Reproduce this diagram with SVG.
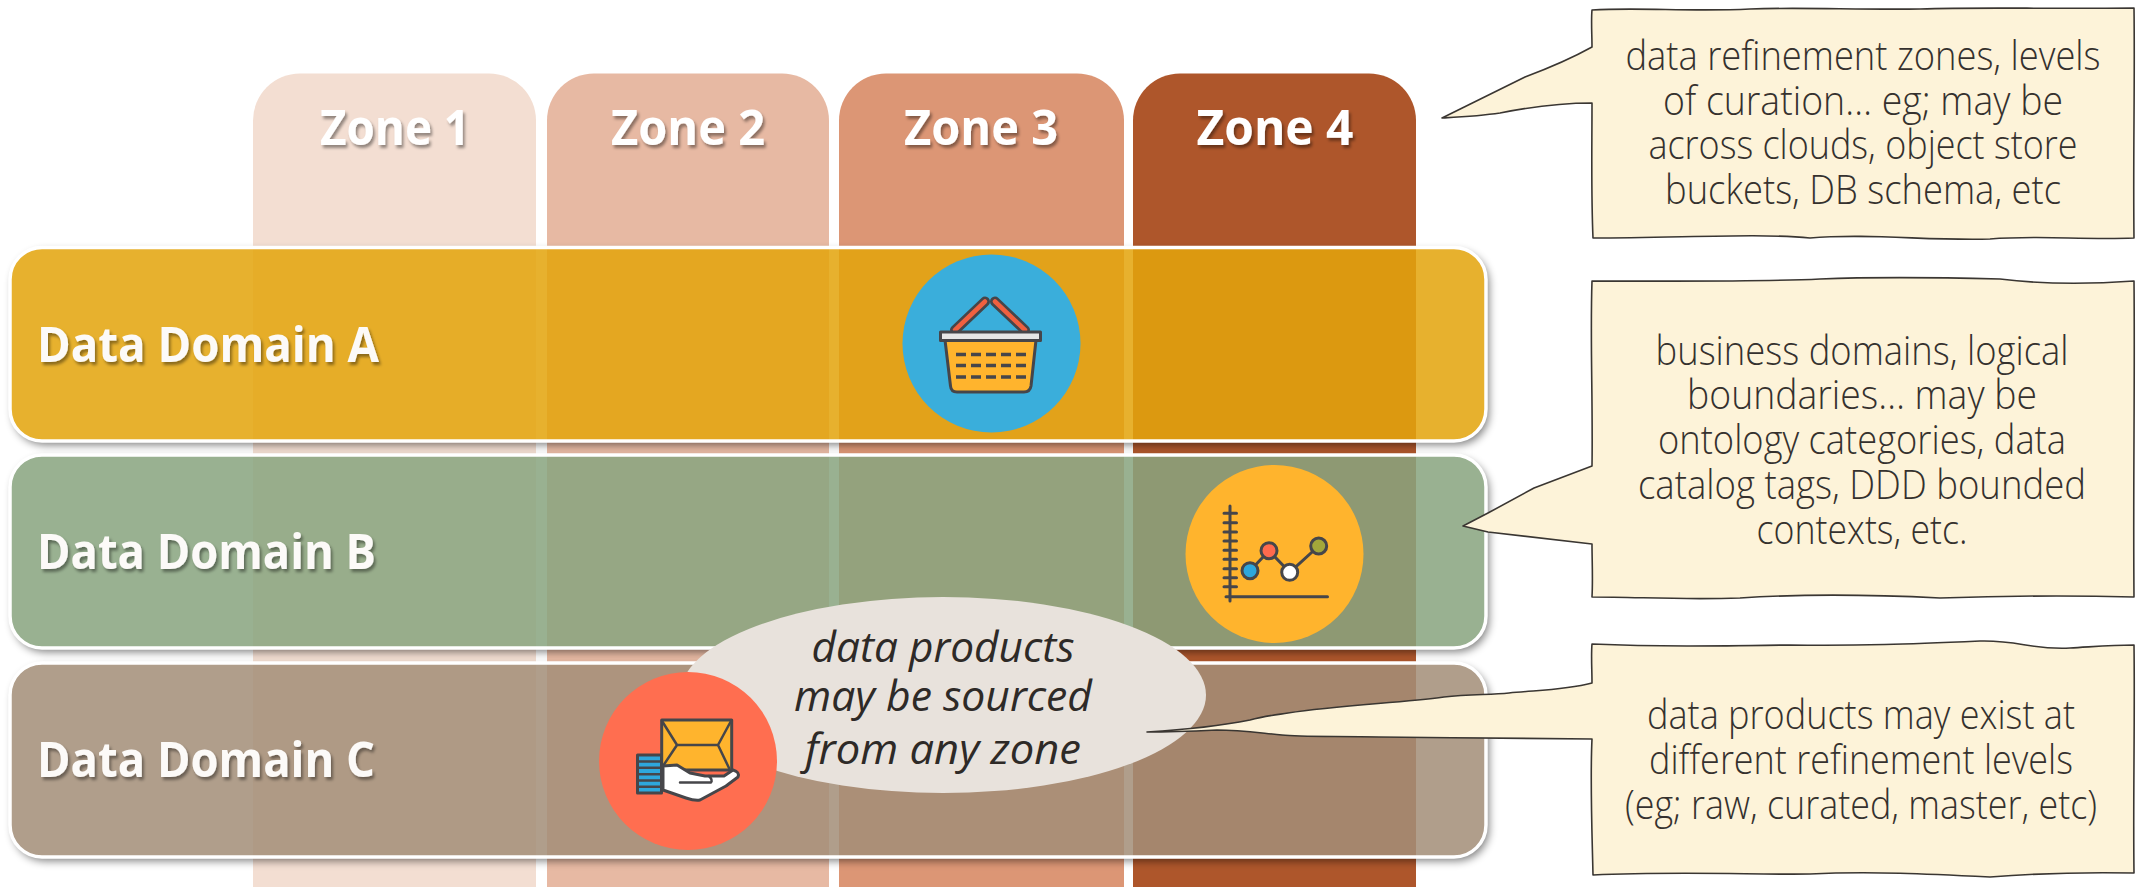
<svg xmlns="http://www.w3.org/2000/svg" width="2136" height="887" viewBox="0 0 2136 887">
<defs>
<filter id="ds" x="-5%" y="-15%" width="110%" height="130%"><feGaussianBlur in="SourceAlpha" stdDeviation="4" result="b"/><feOffset in="b" dx="3" dy="4" result="o"/><feComposite in="o" in2="SourceAlpha" operator="out" result="s"/><feComponentTransfer in="s"><feFuncA type="linear" slope=".5"/></feComponentTransfer></filter>
<filter id="ts" x="-10%" y="-20%" width="120%" height="150%"><feDropShadow dx="2" dy="3" stdDeviation="1.5" flood-color="#000" flood-opacity=".4"/></filter>
</defs>
<style>
.zone{stroke:none}
.zt{font:700 49px "Open Sans","Liberation Sans",sans-serif;fill:#fff;text-anchor:middle;filter:url(#ts)}
.dom{stroke:#fff;stroke-width:3.5}
.dt{font:700 48px "Open Sans","Liberation Sans",sans-serif;fill:#fcfaf8;filter:url(#ts)}
.note{fill:#fdf3d9;stroke:#3a3632;stroke-width:1.6;stroke-linejoin:round}
.nt{font:300 39.5px "Open Sans","Liberation Sans",sans-serif;fill:#35312e;text-anchor:middle}
.it{font:italic 400 42px "Open Sans","Liberation Sans",sans-serif;fill:#2e2a27;text-anchor:middle}
.ic{stroke:#46464a;stroke-width:3;stroke-linejoin:round;stroke-linecap:round}
.ln{fill:none}
</style>
<g id="zone-1"><rect class="zone" x="253" y="73.500" width="283" height="860" rx="47" fill="#f3ded2"/><text class="zt" x="395" y="145" textLength="150" lengthAdjust="spacingAndGlyphs">Zone 1</text></g>
<g id="zone-2"><rect class="zone" x="547" y="73.500" width="282" height="860" rx="47" fill="#e7b9a3"/><text class="zt" x="688" y="145" textLength="154" lengthAdjust="spacingAndGlyphs">Zone 2</text></g>
<g id="zone-3"><rect class="zone" x="839" y="73.500" width="285" height="860" rx="47" fill="#dc9675"/><text class="zt" x="981" y="145" textLength="154" lengthAdjust="spacingAndGlyphs">Zone 3</text></g>
<g id="zone-4"><rect class="zone" x="1133" y="73.500" width="283" height="860" rx="47" fill="#ae562b"/><text class="zt" x="1275" y="145" textLength="157" lengthAdjust="spacingAndGlyphs">Zone 4</text></g>

<g id="domain-a"><rect filter="url(#ds)" x="10" y="247.500" width="1476" height="193.500" rx="32" fill="#000"/><rect class="dom" x="10" y="247.500" width="1476" height="193.500" rx="32" fill="#e3a40c" fill-opacity=".86"/><text class="dt" x="37" y="362" textLength="342" lengthAdjust="spacingAndGlyphs">Data Domain A</text></g>
<g id="domain-b"><rect filter="url(#ds)" x="10" y="455" width="1476" height="193" rx="32" fill="#000"/><rect class="dom" x="10" y="455" width="1476" height="193" rx="32" fill="#88a47f" fill-opacity=".86"/><text class="dt" x="37" y="569" textLength="339" lengthAdjust="spacingAndGlyphs">Data Domain B</text></g>
<g id="domain-c"><rect filter="url(#ds)" x="10" y="663" width="1476" height="194" rx="32" fill="#000"/><rect class="dom" x="10" y="663" width="1476" height="194" rx="32" fill="#a38e78" fill-opacity=".86"/><text class="dt" x="37" y="777" textLength="338" lengthAdjust="spacingAndGlyphs">Data Domain C</text></g>

<g id="note-sourced">
<ellipse cx="943" cy="695" rx="263" ry="98" fill="#e8e2dc"/>
<text class="it" x="943" y="662" textLength="263" lengthAdjust="spacingAndGlyphs">data products</text>
<text class="it" x="943" y="711" textLength="298" lengthAdjust="spacingAndGlyphs">may be sourced</text>
<text class="it" x="943" y="764" textLength="276" lengthAdjust="spacingAndGlyphs">from any zone</text>
</g>

<g id="icon-basket">
<circle cx="991.500" cy="343.500" r="89" fill="#3aaedb"/>
<g class="ic">
<path d="M955 330L985 301.500" stroke-width="10"/><path d="M1025 330L995 301.500" stroke-width="10"/>
<path d="M955 330L985 301.500" stroke="#f0603f" stroke-width="4.500"/><path d="M1025 330L995 301.500" stroke="#f0603f" stroke-width="4.500"/>
<path d="M945 340L1036 340L1031 386Q1030 392 1024 392L957 392Q951 392 950.500 386Z" fill="#ffb42d"/>
<rect x="940.500" y="332" width="100" height="8.500" fill="#e6e6e6"/>
<path class="ln" stroke-width="3.500" stroke-dasharray="10 5" stroke-linecap="butt" d="M956 354.500H1026M956 365.500H1026M956 377H1026"/>
</g>
</g>

<g id="icon-chart">
<circle cx="1274.500" cy="554" r="89" fill="#ffb42d"/>
<g class="ic">
<path class="ln" d="M1230 506V601M1226 596.700H1327.500M1224 513.300H1236.500M1224 522.700H1236.500M1224 532H1236.500M1224 541H1236.500M1224 550.300H1236.500M1224 559.300H1236.500M1224 568.700H1236.500M1224 577.700H1236.500M1224 586.700H1236.500"/>
<path class="ln" d="M1250 570.700L1269 550.700L1289.700 572.300L1318.700 546"/>
<circle cx="1250" cy="570.700" r="8" fill="#2ea7dc"/>
<circle cx="1269" cy="550.700" r="8" fill="#ff6a4d"/>
<circle cx="1289.700" cy="572.300" r="8" fill="#fff"/>
<circle cx="1318.700" cy="546" r="8" fill="#a3a73a"/>
</g>
</g>

<g id="icon-hand">
<circle cx="688" cy="761" r="89" fill="#ff6e50"/>
<g class="ic">
<rect x="661.700" y="720" width="70" height="50" fill="#ffb42d"/>
<path class="ln" stroke-width="2.500" d="M662 721L677 745H718L731 721M677 745L663 766M718 745L729 768"/>
<rect x="637.500" y="755" width="24" height="38" fill="#2ea7dc"/>
<path class="ln" stroke-width="2.500" stroke-linecap="butt" d="M638 761.500H661M638 767.800H661M638 774.200H661M638 780.500H661M638 786.800H661"/>
<path d="M663 766L677 765L690 773L705 776L724 776L733 770Q740 772 738 777L726 786L700 800Q695 801 686 798L663 790Z" fill="#fff"/>
<path class="ln" stroke-width="2.500" d="M680 782.500H711Q713 780 709 776"/>
</g>
</g>

<g id="note-zones">
<path class="note" d="M1592 10C1640 7 1690 12 1750 9C1800 7 1860 10 1920 9C1980 7 2040 9 2134 8C2135 80 2133 160 2134 238C2080 240 2040 235 1990 239C1930 241 1870 233 1810 238C1760 233 1680 238 1593 238C1591 190 1592 150 1592 103C1560 103 1530 107 1500 113C1480 116 1460 117 1442 118L1525 77Q1565 62 1592 47C1592 35 1591 20 1592 10Z"/>
<text class="nt" x="1863" y="70" textLength="475" lengthAdjust="spacingAndGlyphs">data refinement zones, levels</text>
<text class="nt" x="1863" y="114.500" textLength="400" lengthAdjust="spacingAndGlyphs">of curation… eg; may be</text>
<text class="nt" x="1863" y="159" textLength="429" lengthAdjust="spacingAndGlyphs">across clouds, object store</text>
<text class="nt" x="1863" y="204" textLength="396" lengthAdjust="spacingAndGlyphs">buckets, DB schema, etc</text>
</g>

<g id="note-domains">
<path class="note" d="M1592 281C1680 281 1760 282 1820 279C1870 277 1920 277 2000 279C2040 284 2080 285 2134 281C2135 380 2133 490 2134 597C2060 595 2000 596 1940 598C1880 595 1800 594 1740 598C1680 600 1640 597 1592 597C1593 580 1592 560 1592 544L1488 532L1463 526L1488 513L1534 488L1592 466C1593 400 1590 340 1592 281Z"/>
<text class="nt" x="1862" y="364.500" textLength="413" lengthAdjust="spacingAndGlyphs">business domains, logical</text>
<text class="nt" x="1862" y="408.500" textLength="350" lengthAdjust="spacingAndGlyphs">boundaries… may be</text>
<text class="nt" x="1862" y="453.500" textLength="408" lengthAdjust="spacingAndGlyphs">ontology categories, data</text>
<text class="nt" x="1862" y="498.500" textLength="448" lengthAdjust="spacingAndGlyphs">catalog tags, DDD bounded</text>
<text class="nt" x="1862" y="544" textLength="211" lengthAdjust="spacingAndGlyphs">contexts, etc.</text>
</g>

<g id="note-products">
<path class="note" d="M1592 644C1660 647 1720 646 1790 645C1860 646 1910 644 1980 641C2020 640 2030 650 2070 648C2090 647 2110 645 2134 645C2135 720 2133 800 2134 873C2080 872 2040 873 1990 877C1930 874 1870 871 1810 874C1760 875 1680 871 1593 875C1592 830 1590 780 1592 739C1530 738 1450 738 1379 737C1340 736 1300 737 1282 735C1260 733 1240 730 1217 730C1195 731 1170 732 1147 732C1180 730 1220 726 1250 720C1265 716 1275 715 1288 713C1340 705 1400 703 1444 697C1470 694 1490 695 1509 693C1540 690 1565 690 1592 683C1592 670 1591 655 1592 644Z"/>
<text class="nt" x="1861" y="729" textLength="428" lengthAdjust="spacingAndGlyphs">data products may exist at</text>
<text class="nt" x="1861" y="773.500" textLength="424" lengthAdjust="spacingAndGlyphs">different refinement levels</text>
<text class="nt" x="1861" y="819" textLength="472" lengthAdjust="spacingAndGlyphs">(eg; raw, curated, master, etc)</text>
</g>
</svg>
